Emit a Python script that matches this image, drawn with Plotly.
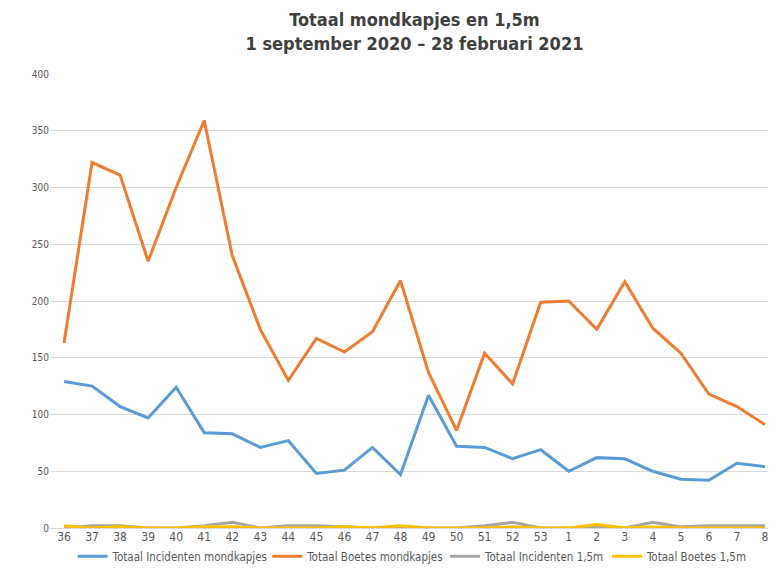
import plotly.graph_objects as go

# weeknummers (sep 2020 - feb 2021)
weeks = ['36', '37', '38', '39', '40', '41', '42', '43', '44', '45', '46', '47', '48',
         '49', '50', '51', '52', '53', '1', '2', '3', '4', '5', '6', '7', '8']
x_pos = list(range(len(weeks)))

incidenten_mondkapjes = [129, 125, 107, 97, 124, 84, 83, 71, 77, 48, 51, 71, 47,
                         117, 72, 71, 61, 69, 50, 62, 61, 50, 43, 42, 57, 54]
boetes_mondkapjes = [163, 322, 311, 235, 300, 359, 240, 175, 130, 167, 155, 173, 218,
                     137, 86, 154, 127, 199, 200, 175, 217, 176, 154, 118, 107, 91]
incidenten_15m = [0, 2, 2, 0, 0, 2, 5, 0, 2, 2, 1, 0, 1,
                  0, 0, 2, 5, 0, 0, 1, 0, 5, 1, 2, 2, 2]
boetes_15m = [2, 0, 1, 0, 0, 1, 1, 0, 0, 0, 1, 0, 2,
              0, 0, 0, 1, 0, 0, 3, 0, 1, 0, 0, 0, 0]

series = [
    ('Totaal Incidenten mondkapjes', incidenten_mondkapjes, '#5b9bd5', 'legend'),
    ('Totaal Boetes mondkapjes', boetes_mondkapjes, '#ed7d31', 'legend2'),
    ('Totaal Incidenten 1,5m', incidenten_15m, '#a5a5a5', 'legend3'),
    ('Totaal Boetes 1,5m', boetes_15m, '#ffc000', 'legend4'),
]

font_fam = 'DejaVu Sans Condensed, Liberation Sans Narrow, sans-serif'

fig = go.Figure()
for name, vals, col, leg in series:
    fig.add_trace(go.Scatter(x=x_pos, y=vals, name=name, mode='lines',
                             line=dict(color=col, width=3), legend=leg))

fig.update_xaxes(range=[-0.5, len(weeks) - 0.5], tickmode='array',
                 tickvals=x_pos, ticktext=weeks, showgrid=False, zeroline=False,
                 showline=False, ticks='',
                 tickfont=dict(size=12, color='#595959', family=font_fam))
fig.update_yaxes(range=[0, 400], dtick=50, showgrid=True, gridcolor='#d9d9d9',
                 gridwidth=1, zeroline=True, zerolinecolor='#d9d9d9', zerolinewidth=1,
                 ticks='', tickfont=dict(size=10, color='#595959', family=font_fam))

leg_common = dict(orientation='h', yanchor='middle', y=-0.062, xanchor='left',
                  bgcolor='rgba(0,0,0,0)', itemwidth=30,
                  font=dict(size=11.5, color='#595959', family=font_fam))
fig.update_layout(
    width=776, height=568,
    plot_bgcolor='white', paper_bgcolor='white',
    margin=dict(l=42, r=5, t=66, b=34),
    title=dict(text='<b>Totaal mondkapjes en 1,5m<br>1 september 2020 – 28 februari 2021</b>',
               x=0.5, xref='paper', y=0.968, yref='container', yanchor='middle',
               font=dict(size=18, color='#404040', family=font_fam)),
    showlegend=True,
    legend=dict(x=0.031, **leg_common),
    legend2=dict(x=0.298, **leg_common),
    legend3=dict(x=0.542, **leg_common),
    legend4=dict(x=0.764, **leg_common),
)

fig.write_html("out.html")
